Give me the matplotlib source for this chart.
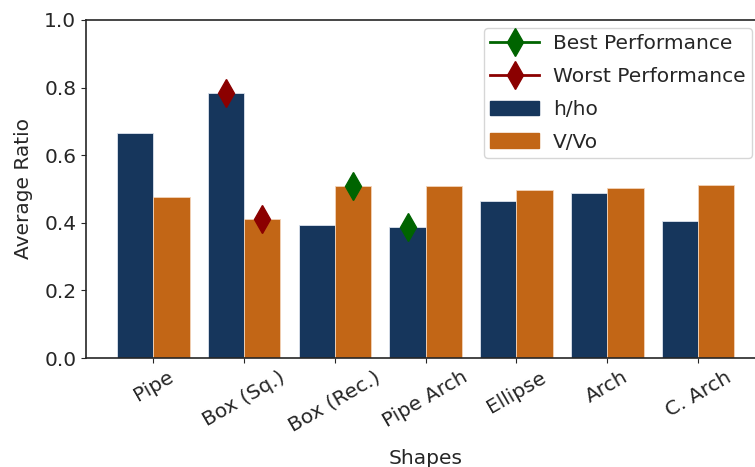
import numpy as np
import matplotlib
matplotlib.use("Agg")
import matplotlib.pyplot as plt
from matplotlib.lines import Line2D
from matplotlib.patches import Patch

shapes = ["Pipe", "Box (Sq.)", "Box (Rec.)", "Pipe Arch", "Ellipse", "Arch", "C. Arch"]
h_ratio = [0.666, 0.783, 0.393, 0.388, 0.464, 0.489, 0.405]
v_ratio = [0.476, 0.411, 0.509, 0.509, 0.497, 0.503, 0.511]

# (shape index, which bar, best/worst)
best_marks = [(2, "v"), (3, "h")]
worst_marks = [(1, "h"), (1, "v")]

navy = "#16365c"
orange = "#c26616"

plt.rcParams["font.size"] = 14.5
plt.rcParams["axes.edgecolor"] = "#262626"
plt.rcParams["axes.linewidth"] = 1.2
plt.rcParams["xtick.color"] = "#262626"
plt.rcParams["ytick.color"] = "#262626"
plt.rcParams["text.color"] = "#262626"
plt.rcParams["axes.labelcolor"] = "#262626"

fig = plt.figure(figsize=(7.55, 4.67), dpi=100)
ax = fig.add_axes([0.114, 0.2334, 0.8996, 0.7238])

x = np.arange(len(shapes))
w = 0.4
ax.bar(x - w / 2, h_ratio, w, color=navy, edgecolor="#dde4ee", linewidth=0.6)
ax.bar(x + w / 2, v_ratio, w, color=orange, edgecolor="#f3d3b8", linewidth=0.6)

def mark(points, color):
    for i, which in points:
        if which == "h":
            ax.plot(x[i] - w / 2, h_ratio[i], marker="d", color=color, markersize=14)
        else:
            ax.plot(x[i] + w / 2, v_ratio[i], marker="d", color=color, markersize=14)

mark(best_marks, "darkgreen")
mark(worst_marks, "darkred")

ax.set_xlim(-0.74, len(shapes) - 0.26)
ax.set_ylim(0, 1.0)
ax.set_xticks(x)
ax.set_xticklabels(shapes, rotation=30)
ax.set_xlabel("Shapes", labelpad=10)
ax.set_ylabel("Average Ratio", labelpad=8)

handles = [
    Line2D([], [], color="darkgreen", marker="d", markersize=14, linewidth=2),
    Line2D([], [], color="darkred", marker="d", markersize=14, linewidth=2),
    Patch(color=navy),
    Patch(color=orange),
]
labels = ["Best Performance", "Worst Performance", "h/ho", "V/Vo"]
fig.legend(handles, labels, loc="upper right", bbox_to_anchor=(0.996, 0.940),
           borderaxespad=0, fontsize=14.5, handlelength=2.4, handletextpad=0.7,
           labelspacing=0.68, borderpad=0.32)

fig.savefig("out.png", dpi=100)
